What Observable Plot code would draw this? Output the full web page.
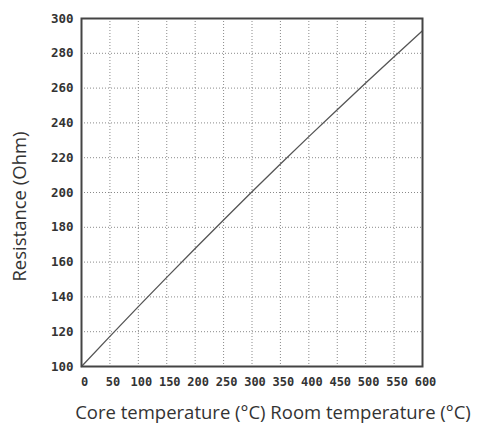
<!DOCTYPE html>
<html>
<head>
<meta charset="utf-8">
<script src="https://cdn.jsdelivr.net/npm/d3@7"></script>
<script src="https://cdn.jsdelivr.net/npm/@observablehq/plot@0.6"></script>
<style>
  html, body { margin: 0; padding: 0; background: #fff; }
  #chart svg { display: block; }
</style>
</head>
<body>
<div id="chart"></div>
<script>
// Data
const temperatures = [0, 50, 100, 150, 200, 250, 300, 350, 400, 450, 500, 550, 600];
const resistances  = [100, 117.3, 134.4, 151.2, 167.8, 184.2, 200.4, 216.4, 232.1, 247.6, 262.9, 278, 293];
const xTicks = [0, 50, 100, 150, 200, 250, 300, 350, 400, 450, 500, 550, 600];
const yTicks = [100, 120, 140, 160, 180, 200, 220, 240, 260, 280, 300];
const xLabel = "Core temperature (°C) Room temperature (°C)";
const yLabel = "Resistance (Ohm)";

const data = temperatures.map((t, i) => ({t, r: resistances[i]}));
const innerX = xTicks.slice(1, -1);
const innerY = yTicks.slice(1, -1);

const tickFont = "'DejaVu Sans Mono', monospace";
const labelFont = "'Open Sans', sans-serif";

const chart = Plot.plot({
  width: 482,
  height: 429,
  marginLeft: 81,
  marginRight: 60,
  marginTop: 18,
  marginBottom: 63,
  style: {background: "#fff", color: "#333"},
  x: {domain: [0, 600]},
  y: {domain: [100, 300]},
  marks: [
    Plot.ruleX(innerX, {stroke: "#8a8a8a", strokeDasharray: "1,2", strokeWidth: 1}),
    Plot.ruleY(innerY, {stroke: "#8a8a8a", strokeDasharray: "1,2", strokeWidth: 1}),
    Plot.line(data, {x: "t", y: "r", stroke: "#555", strokeWidth: 1.3, curve: "monotone-x"}),
    Plot.frame({stroke: "#444", strokeWidth: 2}),
    Plot.axisX(xTicks, {tickSize: 0, tickPadding: 11, dx: 3, label: null,
      fontFamily: tickFont, fontWeight: "bold", fontSize: 12, fill: "#333",
      tickFormat: d => String(d)}),
    Plot.axisY(yTicks, {tickSize: 0, tickPadding: 8, label: null,
      fontFamily: tickFont, fontWeight: "bold", fontSize: 12.5, fill: "#333",
      tickFormat: d => String(d)}),
    Plot.text([xLabel], {frameAnchor: "bottom", textAnchor: "middle", dx: 21, dy: 47, lineAnchor: "middle",
      fontFamily: labelFont, fontSize: 18.5, fill: "#333", letterSpacing: "0.8px"}),
    Plot.text([yLabel], {frameAnchor: "left", textAnchor: "middle", rotate: -90, dx: -61, dy: 14, lineAnchor: "middle",
      fontFamily: labelFont, fontSize: 18.5, fill: "#333", letterSpacing: "1.5px"})
  ]
});
document.getElementById("chart").appendChild(chart);
</script>
</body>
</html>
